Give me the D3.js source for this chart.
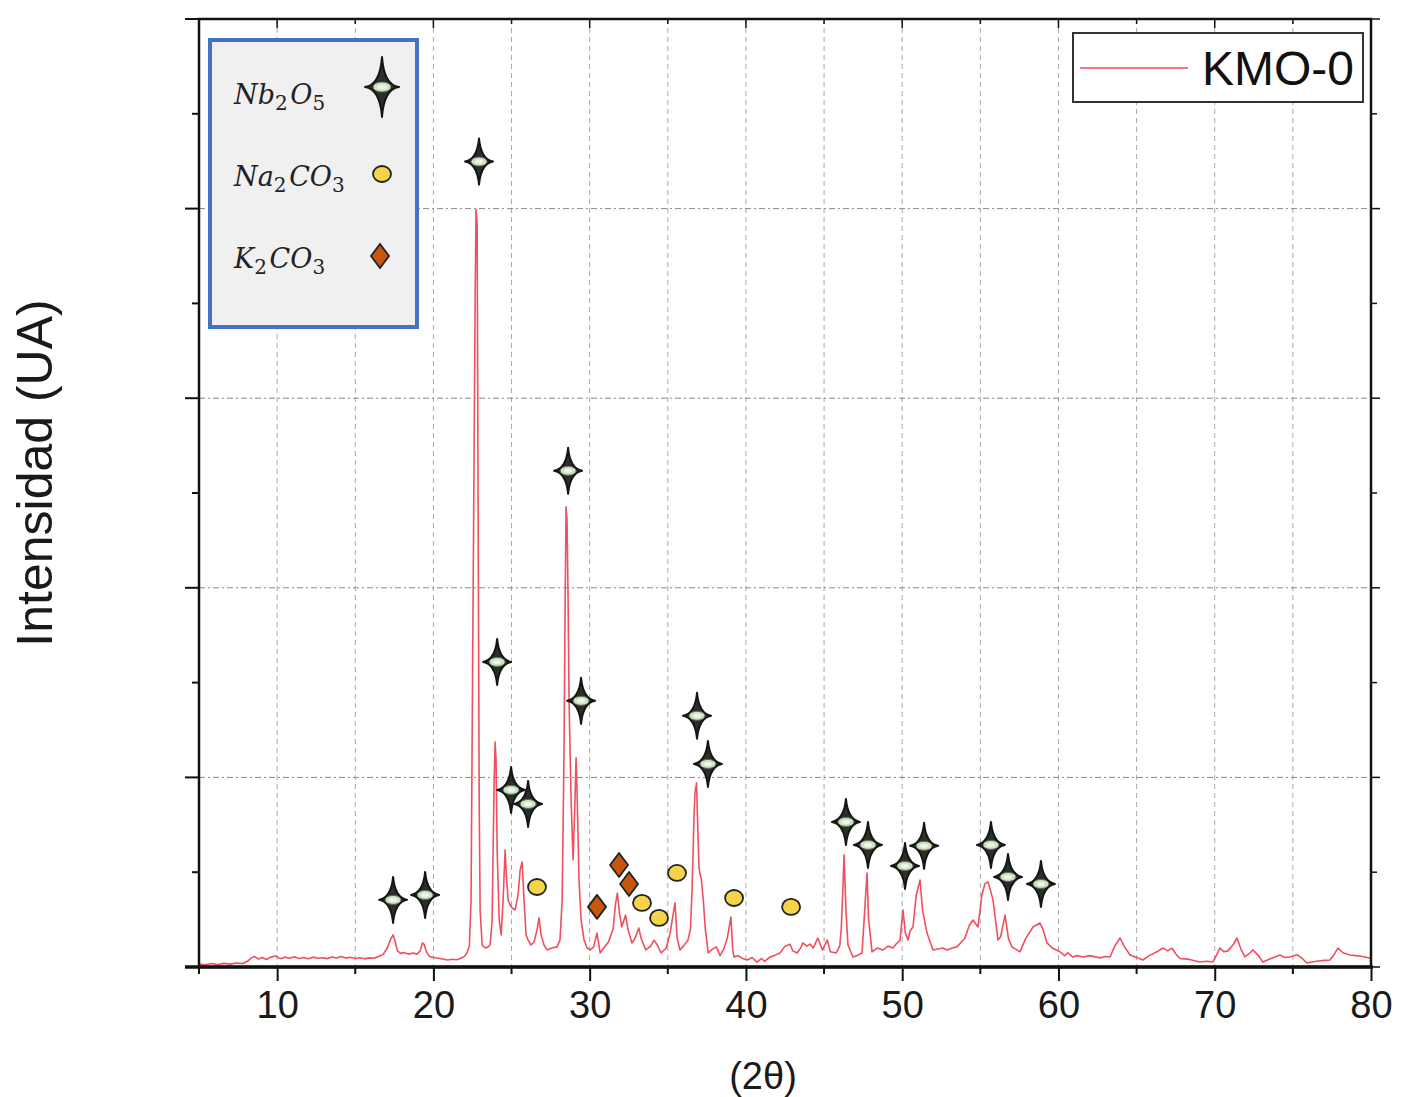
<!DOCTYPE html>
<html>
<head>
<meta charset="utf-8">
<script src="https://cdnjs.cloudflare.com/ajax/libs/d3/7.8.5/d3.min.js"></script>
<style>
  body { margin: 0; background: #ffffff; }
  svg { display: block; }
</style>
</head>
<body>
<svg id="drawing_region"></svg>
<script>
const theta = [5.0,5.4,5.8,6.2,6.6,7.0,7.4,7.8,8.1,8.35,8.55,8.8,9.05,9.3,9.6,9.9,10.2,10.5,10.8,11.1,11.4,11.7,12.0,12.3,12.6,12.9,13.2,13.5,13.8,14.1,14.4,14.7,15.0,15.3,15.6,15.9,16.2,16.5,16.8,17.05,17.25,17.42,17.55,17.7,17.9,18.1,18.4,18.7,18.95,19.15,19.3,19.42,19.55,19.75,20.0,20.3,20.6,20.9,21.2,21.5,21.75,22.0,22.15,22.3,22.41,22.54,22.67,22.73,22.80,22.86,22.93,22.99,23.12,23.31,23.50,23.63,23.76,23.82,23.89,23.95,24.01,24.08,24.21,24.34,24.46,24.59,24.65,24.78,24.91,25.04,25.23,25.42,25.55,25.68,25.80,25.93,26.06,26.25,26.44,26.63,26.76,26.89,27.08,27.27,27.59,27.91,28.10,28.24,28.36,28.43,28.49,28.55,28.62,28.68,28.81,28.94,29.06,29.13,29.19,29.32,29.45,29.64,29.84,30.03,30.25,30.47,30.67,30.9,31.2,31.5,31.65,31.77,31.9,32.05,32.3,32.45,32.7,32.9,33.14,33.3,33.59,33.9,34.12,34.3,34.57,34.9,35.15,35.46,35.6,35.78,36.0,36.29,36.45,36.55,36.68,36.74,36.84,36.93,37.0,37.08,37.15,37.27,37.4,37.59,37.8,38.1,38.35,38.6,38.8,39.04,39.15,39.23,39.5,39.8,40.07,40.4,40.71,41.0,41.2,41.54,41.8,42.18,42.5,42.82,43.0,43.27,43.5,43.65,43.9,44.1,44.3,44.6,44.9,45.2,45.4,45.78,46.0,46.1,46.2,46.28,46.4,46.53,46.85,47.1,47.43,47.6,47.75,47.85,48.07,48.4,48.77,49.1,49.4,49.6,49.86,50.05,50.2,50.37,50.5,50.69,50.9,51.14,51.3,51.59,51.97,52.3,52.6,52.87,53.2,53.5,54.0,54.3,54.53,54.85,55.1,55.3,55.49,55.6,55.81,56.13,56.3,56.58,56.8,57.03,57.54,57.9,58.37,58.82,59.0,59.27,59.6,60.1,60.4,60.6,60.9,61.2,61.57,62.0,62.66,63.0,63.3,63.6,63.94,64.2,64.58,65.0,65.41,65.8,66.3,66.69,67.0,67.26,67.5,67.77,68.4,69.04,69.5,69.87,70.1,70.33,70.6,70.84,71.2,71.42,71.7,71.93,72.2,72.44,72.8,73.08,73.6,74.17,74.5,74.81,75.26,75.6,75.9,76.5,77.0,77.37,77.6,77.88,78.2,78.65,79.0,79.48,80.0];
const intensity = [15,12,18,13,19,15,21,18,30,48,56,42,50,40,52,58,44,52,46,54,45,50,43,52,46,49,44,53,47,56,47,51,45,49,43,48,46,55,68,100,145,170,135,85,72,76,68,74,68,85,127,118,80,55,50,46,42,37,41,38,46,56,75,110,354,1940,3520,3995,3915,2462,880,300,116,100,106,116,248,617,987,1187,1090,617,248,169,354,617,512,354,327,311,301,380,512,554,354,169,142,116,132,195,259,169,116,90,100,106,142,354,1150,1900,2427,2360,1935,1410,880,565,880,1103,935,459,248,142,100,90,105,179,74,100,132,200,330,390,290,211,274,200,127,150,206,150,90,110,142,120,74,100,180,338,150,90,110,142,200,400,800,920,971,700,520,485,460,354,200,74,90,106,60,100,150,264,100,53,60,45,37,50,26,45,30,53,60,74,110,120,85,74,100,127,110,121,100,153,90,142,80,74,110,200,400,591,300,116,53,60,74,300,496,250,80,100,90,110,100,120,142,301,180,142,190,211,380,459,300,179,90,95,100,90,100,106,150,220,248,211,380,440,449,420,354,142,160,274,150,106,80,150,211,232,200,127,100,80,60,75,53,60,53,60,48,55,53,110,153,110,63,50,37,60,80,100,85,100,70,45,40,26,30,26,60,100,80,85,120,153,90,53,70,90,60,26,45,63,50,53,65,45,21,30,35,37,60,100,75,63,60,55,45];

// phase marks: [2theta, height]
const nb2o5Marks = [[17.42,354],[19.47,380],[22.92,4248],[24.08,1609],[24.97,934],[26.06,860],[28.62,2617],[29.45,1404],[36.87,1325],[37.57,1071],[46.40,765],[47.81,644],[50.18,533],[51.40,639],[55.68,644],[56.77,475],[58.88,438]];
const na2co3Marks = [[26.63,422],[33.35,338],[34.44,259],[35.59,496],[39.24,364],[42.89,317]];
const k2co3Marks = [[30.47,317],[31.88,538],[32.52,438]];

const xTicks = [10,20,30,40,50,60,70,80];
const seriesName = 'KMO-0';

class XrdChart {

    constructor( config ) {
        this.config = {
            parent: config.parent,
            width: config.width,
            height: config.height,
            margin: config.margin
        };
        this.init();
    }

    init() {
        let self = this;
        const m = self.config.margin;

        self.svg = d3.select( self.config.parent )
            .attr('width', self.config.width)
            .attr('height', self.config.height);

        self.inner_width = self.config.width - m.left - m.right;
        self.inner_height = self.config.height - m.top - m.bottom;

        self.chart = self.svg.append('g')
            .attr('transform', `translate(${m.left}, ${m.top})`);

        self.xscale = d3.scaleLinear()
            .domain([5, 80])
            .range([0, self.inner_width]);

        self.yscale = d3.scaleLinear()
            .domain([0, 5000])
            .range([self.inner_height, 0]);
    }

    star( rx, ry, k ) {
        return `M0,${-ry} Q${k},${-k} ${rx},0 Q${k},${k} 0,${ry} Q${-k},${k} ${-rx},0 Q${-k},${-k} 0,${-ry} Z`;
    }

    // dark four-point star with a pale green core
    drawStar( g, rx, ry, cx, cy ) {
        let self = this;
        g.append('path')
            .attr('d', self.star(rx, ry, 2))
            .attr('fill', '#2a2f28')
            .attr('stroke', '#151515')
            .attr('stroke-width', 2)
            .attr('stroke-linejoin', 'round');
        g.append('ellipse')
            .attr('rx', cx).attr('ry', cy)
            .attr('fill', '#cfe2c3')
            .attr('stroke', '#5d6b55')
            .attr('stroke-width', 1);
        g.append('ellipse')
            .attr('rx', cx * 0.5).attr('ry', cy * 0.45)
            .attr('fill', '#eef6e8');
    }

    render() {
        let self = this;
        const W = self.inner_width, H = self.inner_height;

        // grid
        self.chart.append('g')
            .selectAll('line')
            .data(d3.range(10, 80, 5))
            .join('line')
            .attr('x1', d => self.xscale(d)).attr('x2', d => self.xscale(d))
            .attr('y1', 0).attr('y2', H)
            .attr('stroke', '#a8a8a8')
            .attr('stroke-width', 1)
            .attr('stroke-dasharray', '5,4');

        self.chart.append('g')
            .selectAll('line')
            .data([1000, 2000, 3000, 4000])
            .join('line')
            .attr('x1', 0).attr('x2', W)
            .attr('y1', d => self.yscale(d)).attr('y2', d => self.yscale(d))
            .attr('stroke', '#8a8a8a')
            .attr('stroke-width', 1)
            .attr('stroke-dasharray', '6,3,2,3');

        // axes
        const xMajor = d3.range(10, 81, 10);
        const xMinor = d3.range(5, 81, 5).filter(d => d % 10 !== 0);
        const yMajor = d3.range(0, 5001, 1000);
        const yMinor = d3.range(500, 5000, 1000);

        const bottom = self.chart.append('g')
            .attr('transform', `translate(0, ${H})`)
            .call(d3.axisBottom(self.xscale).tickValues(xTicks).tickSize(14).tickSizeOuter(0).tickPadding(10));
        bottom.select('.domain').remove();
        bottom.selectAll('.tick line').attr('stroke', '#111').attr('stroke-width', 2);
        bottom.selectAll('.tick text')
            .attr('font-family', 'Liberation Sans, Arial, sans-serif')
            .attr('font-size', 38)
            .attr('fill', '#1a1a1a');
        bottom.append('g').selectAll('line')
            .data(xMinor).join('line')
            .attr('x1', d => self.xscale(d)).attr('x2', d => self.xscale(d))
            .attr('y1', 0).attr('y2', 7)
            .attr('stroke', '#111').attr('stroke-width', 2);

        const top = self.chart.append('g');
        top.selectAll('line')
            .data(xMajor.concat(xMinor)).join('line')
            .attr('x1', d => self.xscale(d)).attr('x2', d => self.xscale(d))
            .attr('y1', 0).attr('y2', d => d % 10 === 0 ? 9 : 5)
            .attr('stroke', '#111').attr('stroke-width', 1.5);

        const left = self.chart.append('g');
        left.selectAll('line')
            .data(yMajor.concat(yMinor)).join('line')
            .attr('x1', d => d % 1000 === 0 ? -14 : -7).attr('x2', 0)
            .attr('y1', d => self.yscale(d)).attr('y2', d => self.yscale(d))
            .attr('stroke', '#111').attr('stroke-width', 2);

        const right = self.chart.append('g');
        right.selectAll('line')
            .data(yMajor.concat(yMinor)).join('line')
            .attr('x1', W).attr('x2', d => W + (d % 1000 === 0 ? 9 : 6))
            .attr('y1', d => self.yscale(d)).attr('y2', d => self.yscale(d))
            .attr('stroke', '#111').attr('stroke-width', 1.5);

        // data line
        const pts = theta.map((t, i) => [t, intensity[i]]);
        const line = d3.line()
            .x(d => self.xscale(d[0]))
            .y(d => self.yscale(d[1]));

        self.chart.append('path')
            .datum(pts)
            .attr('d', line)
            .attr('fill', 'none')
            .attr('stroke', '#ef4f5e')
            .attr('stroke-width', 1.6)
            .attr('stroke-linejoin', 'round');

        // frame
        self.chart.append('rect')
            .attr('x', 0).attr('y', 0)
            .attr('width', W).attr('height', H)
            .attr('fill', 'none')
            .attr('stroke', '#111')
            .attr('stroke-width', 2.5);
        self.chart.append('line')
            .attr('x1', -14).attr('x2', W + 2)
            .attr('y1', H).attr('y2', H)
            .attr('stroke', '#111').attr('stroke-width', 3.5);

        // phase markers
        self.chart.append('g')
            .selectAll('g')
            .data(nb2o5Marks).join('g')
            .attr('transform', d => `translate(${self.xscale(d[0])}, ${self.yscale(d[1])})`)
            .each(function() { self.drawStar(d3.select(this), 14, 23, 8, 4.5); });

        self.chart.append('g')
            .selectAll('ellipse')
            .data(na2co3Marks).join('ellipse')
            .attr('cx', d => self.xscale(d[0]))
            .attr('cy', d => self.yscale(d[1]))
            .attr('rx', 9).attr('ry', 8)
            .attr('fill', '#f6d348')
            .attr('stroke', '#222')
            .attr('stroke-width', 1.8);

        self.chart.append('g')
            .selectAll('path')
            .data(k2co3Marks).join('path')
            .attr('transform', d => `translate(${self.xscale(d[0])}, ${self.yscale(d[1])})`)
            .attr('d', 'M0,-12 L9,0 L0,12 L-9,0 Z')
            .attr('fill', '#c8560f')
            .attr('stroke', '#222')
            .attr('stroke-width', 1.8)
            .attr('stroke-linejoin', 'round');

        // axis labels
        self.svg.append('text')
            .attr('x', 763).attr('y', 1089)
            .attr('text-anchor', 'middle')
            .attr('font-family', 'Liberation Sans, Arial, sans-serif')
            .attr('font-size', 38)
            .attr('fill', '#1a1a1a')
            .text('(2θ)');

        self.svg.append('text')
            .attr('transform', 'translate(52, 473) rotate(-90)')
            .attr('text-anchor', 'middle')
            .attr('font-family', 'Liberation Sans, Arial, sans-serif')
            .attr('font-size', 50)
            .attr('fill', '#1a1a1a')
            .text('Intensidad (UA)');

        self.renderLegends();
    }

    renderLegends() {
        let self = this;

        // series legend
        const lg = self.svg.append('g');
        lg.append('rect')
            .attr('x', 1073).attr('y', 33)
            .attr('width', 290).attr('height', 69)
            .attr('fill', '#fff')
            .attr('stroke', '#333')
            .attr('stroke-width', 2);
        lg.append('line')
            .attr('x1', 1080).attr('x2', 1188)
            .attr('y1', 68).attr('y2', 68)
            .attr('stroke', '#e87a80')
            .attr('stroke-width', 2);
        lg.append('text')
            .attr('x', 1202).attr('y', 85)
            .attr('font-family', 'Liberation Sans, Arial, sans-serif')
            .attr('font-size', 48)
            .attr('fill', '#111')
            .text(seriesName);

        // phase legend
        const pg = self.svg.append('g');
        pg.append('rect')
            .attr('x', 210).attr('y', 40)
            .attr('width', 207).attr('height', 287)
            .attr('fill', '#f0f0f0')
            .attr('stroke', '#4472c4')
            .attr('stroke-width', 4);

        const phases = [
            { base: ['N', 'b', '2', 'O', '5'], y: 104 },
            { base: ['N', 'a', '2', 'C', 'O', '3'], y: 186 },
            { base: ['K', '2', 'C', 'O', '3'], y: 268 }
        ];
        phases.forEach(p => {
            const t = pg.append('text')
                .attr('x', 234).attr('y', p.y)
                .attr('font-family', 'DejaVu Serif, serif')
                .attr('font-style', 'italic')
                .attr('font-size', 27)
                .attr('fill', '#222');
            p.base.forEach(ch => {
                const sub = /[0-9]/.test(ch);
                t.append('tspan')
                    .attr('font-size', sub ? 20 : 27)
                    .attr('font-style', sub ? 'normal' : 'italic')
                    .attr('dy', sub ? 6 : 0)
                    .text(ch);
                if (sub) t.append('tspan').attr('dy', -6).text('\u200a');
            });
        });

        const ls = pg.append('g').attr('transform', 'translate(382, 87)');
        self.drawStar(ls, 17, 30, 9, 5);
        pg.append('ellipse')
            .attr('cx', 382).attr('cy', 174)
            .attr('rx', 9).attr('ry', 8)
            .attr('fill', '#f6d348')
            .attr('stroke', '#222')
            .attr('stroke-width', 1.8);
        pg.append('path')
            .attr('transform', 'translate(380, 256)')
            .attr('d', 'M0,-12 L9,0 L0,12 L-9,0 Z')
            .attr('fill', '#c8560f')
            .attr('stroke', '#222')
            .attr('stroke-width', 1.8);
    }
}

const chart = new XrdChart({
    parent: '#drawing_region',
    width: 1411,
    height: 1097,
    margin: { top: 19, right: 40, bottom: 130, left: 199 }
});
chart.render();
</script>
</body>
</html>
